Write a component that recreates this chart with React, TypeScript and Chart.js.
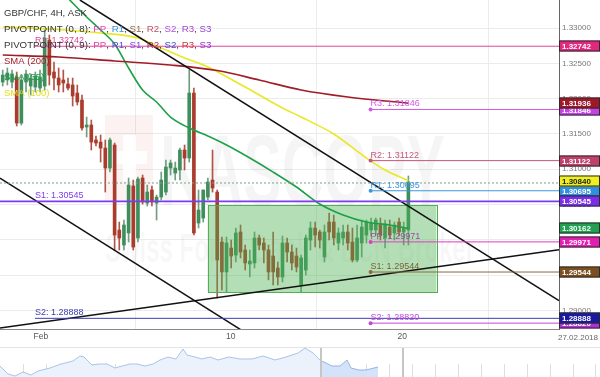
import React, { useEffect, useRef } from 'react';
import { Chart, registerables } from 'chart.js';

Chart.register(...registerables);

const FONT = '"Liberation Sans", Arial, Helvetica, sans-serif';

// ---- 4H candles (GBP/CHF) ----
const opens = [
  1.32235, 1.32264, 1.32235, 1.32306, 1.31654, 1.32235, 1.32178, 1.32164, 1.32150, 1.32178,
  1.32830, 1.32377, 1.32292, 1.32264, 1.32207, 1.32193, 1.32079, 1.31980, 1.31598, 1.31626,
  1.31414, 1.31385, 1.31300, 1.31017, 1.31343, 1.30139, 1.29927, 1.30097, 1.30762, 1.30026,
  1.30876, 1.30521, 1.30706, 1.30521, 1.30606, 1.30677, 1.31017, 1.30946, 1.30989, 1.31272,
  1.31159, 1.32079, 1.30238, 1.30309, 1.30606, 1.30847, 1.30677, 1.29969, 1.29545, 1.29884,
  1.29785, 1.30111, 1.29856, 1.29658, 1.29672, 1.30026, 1.29955, 1.29856, 1.29771, 1.29601,
  1.29474, 1.29955, 1.29827, 1.29771, 1.29361, 1.29573, 1.29997, 1.30167, 1.30111, 1.29757,
  1.30252, 1.30252, 1.29955, 1.30026, 1.30111, 1.29969, 1.29714, 1.29955, 1.30068, 1.30139,
  1.30139, 1.30210, 1.30026, 1.30181, 1.30097, 1.30252, 1.30111, 1.30139,
];
const highs = [
  1.32405, 1.32434, 1.32405, 1.32377, 1.32334, 1.32405, 1.32349, 1.32377, 1.32405, 1.33000,
  1.32901, 1.32518, 1.32434, 1.32405, 1.32292, 1.32292, 1.32193, 1.32051, 1.31739, 1.31697,
  1.31470, 1.31485, 1.31414, 1.31442, 1.31371, 1.30252, 1.30281, 1.30876, 1.30847, 1.30890,
  1.30918, 1.30776, 1.30762, 1.30635, 1.30961, 1.31130, 1.31130, 1.31102, 1.31300, 1.31343,
  1.32405, 1.32150, 1.30706, 1.30706, 1.30876, 1.31272, 1.30706, 1.30040, 1.30040, 1.29997,
  1.30167, 1.30210, 1.29927, 1.29856, 1.30111, 1.30068, 1.30026, 1.29927, 1.30111, 1.29686,
  1.30054, 1.30026, 1.29927, 1.29884, 1.29785, 1.30068, 1.30252, 1.30252, 1.30139, 1.30210,
  1.30380, 1.30351, 1.30167, 1.30210, 1.30210, 1.30167, 1.30210, 1.30281, 1.30281, 1.30309,
  1.30309, 1.30309, 1.30281, 1.30281, 1.30252, 1.30309, 1.30252, 1.30904,
];
const lows = [
  1.32178, 1.32193, 1.32150, 1.31612, 1.31626, 1.32094, 1.32051, 1.32094, 1.32094, 1.32122,
  1.32193, 1.32122, 1.32094, 1.32094, 1.32122, 1.31895, 1.31909, 1.31555, 1.31456, 1.31272,
  1.31329, 1.31102, 1.30677, 1.30961, 1.29856, 1.29856, 1.29856, 1.29969, 1.29856, 1.29969,
  1.30507, 1.30479, 1.30479, 1.30281, 1.30564, 1.30635, 1.30918, 1.30847, 1.30847, 1.30989,
  1.31102, 1.30068, 1.30167, 1.30252, 1.30564, 1.30677, 1.29176, 1.29289, 1.29261, 1.29601,
  1.29686, 1.29743, 1.29573, 1.29474, 1.29601, 1.29856, 1.29672, 1.29432, 1.29361, 1.29361,
  1.29403, 1.29686, 1.29573, 1.29545, 1.29261, 1.29502, 1.29856, 1.29898, 1.29884, 1.29686,
  1.29997, 1.29927, 1.29856, 1.29927, 1.29856, 1.29686, 1.29686, 1.29757, 1.29955, 1.30054,
  1.30068, 1.29997, 1.29884, 1.30026, 1.29997, 1.30054, 1.29927, 1.29927,
];
const closes = [
  1.32334, 1.32363, 1.32349, 1.31654, 1.32264, 1.32349, 1.32292, 1.32320, 1.32306, 1.32858,
  1.32334, 1.32292, 1.32193, 1.32221, 1.32150, 1.32037, 1.31952, 1.31584, 1.31626, 1.31385,
  1.31371, 1.31300, 1.31017, 1.31414, 1.30068, 1.30026, 1.30210, 1.30776, 1.29898, 1.30861,
  1.30536, 1.30677, 1.30536, 1.30606, 1.30847, 1.31031, 1.31088, 1.31017, 1.31272, 1.31159,
  1.32079, 1.30097, 1.30422, 1.30706, 1.30819, 1.30734, 1.29714, 1.29545, 1.29955, 1.29771,
  1.30097, 1.29827, 1.29672, 1.29700, 1.30026, 1.29927, 1.29856, 1.29545, 1.29545, 1.29474,
  1.29955, 1.29827, 1.29672, 1.29615, 1.29743, 1.30026, 1.30167, 1.30068, 1.29997, 1.30111,
  1.30111, 1.30026, 1.30097, 1.30111, 1.29955, 1.29714, 1.30026, 1.30181, 1.30252, 1.30238,
  1.30281, 1.30068, 1.30210, 1.30068, 1.30210, 1.30111, 1.30167, 1.30819,
];

// ---- axes ----
const X_MIN = -0.58;
const X_MAX = 119.3;
const Y_MIN = 1.28737;
const Y_MAX = 1.33397;
const Y_STEP = 0.005;
const xTickPositions = [8.2, 48.9, 85.7];
const xTickLabels = ['Feb', '10', '20'];
const rightDateLabel = '27.02.2018';

// ---- moving averages ----
const sma200X = [0, 12, 24, 36, 46, 55, 64, 74, 87];
const sma200Y = [1.32618, 1.32589, 1.32533, 1.32476, 1.32398, 1.32264, 1.32122, 1.32023, 1.31936];
const sma100X = [0, 10, 21, 29, 34, 39, 44, 52, 60, 64, 71, 78, 82, 87];
const sma100Y = [1.33014, 1.32986, 1.32929, 1.32858, 1.32717, 1.32575, 1.32448, 1.32164, 1.31867, 1.31739, 1.31499, 1.31159, 1.30989, 1.30840];
const sma55X = [12, 15, 18, 21, 24, 27, 30, 33, 36, 40, 44, 48, 53, 58, 63, 68, 73, 78, 83, 87];
const sma55Y = [1.33567, 1.33354, 1.33156, 1.32972, 1.32773, 1.32434, 1.32122, 1.31952, 1.31739, 1.31584, 1.31470, 1.31343, 1.31159, 1.30960, 1.30748, 1.30507, 1.30351, 1.30252, 1.30210, 1.30162];

// ---- trend lines ----
const trendX1 = [16.55, -0.58, -0.58];
const trendY1 = [1.33397, 1.30875, 1.28751];
const trendX2 = [119.3, 56, 119.3];
const trendY2 = [1.29139, 1.28521, 1.29858];

// ---- pivot levels ----
const pivotText = ['R1: 1.32742', 'R3: 1.31846', 'R2: 1.31122', 'R1: 1.30695', 'S1: 1.30545', 'PP: 1.29971', 'S1: 1.29544', 'S2: 1.28888', 'S2: 1.28820'];
const pivotValues = [1.32742, 1.31846, 1.31122, 1.30695, 1.30545, 1.29971, 1.29544, 1.28888, 1.28820];
const pivotStart = [6.9, 78.9, 78.9, 78.9, -0.58, 78.9, 78.9, 6.9, 78.9];
const pivotLabelX = [6.9, 78.9, 78.9, 78.9, 6.9, 78.9, 78.9, 6.9, 78.9];
const pivotDot = [false, true, true, true, false, true, true, false, true];
const pivotColors = ['#e0449a', '#d45ae6', '#c4587a', '#3a96e2', '#7c3cf0', '#e03cc4', '#8a6a3e', '#3c3cb4', '#c048d8'];
const pivotTextColors = ['#e0449a', '#d45ae6', '#c4587a', '#3a96e2', '#7c3cf0', '#a048a8', '#7a5e36', '#3c3cb4', '#c048d8'];
const currentPrice = 1.30805;

// ---- consolidation zone ----
const zoneX = [43.96, 93.0];
const zoneY = [1.29261, 1.30493];

// ---- right axis value tags ----
const tagValues = [1.32742, 1.31846, 1.31936, 1.31122, 1.30695, 1.30840, 1.30545, 1.30162, 1.29971, 1.29544, 1.28820, 1.28888];
const tagColors = ['#e0287f', '#c244e6', '#a01828', '#c0406a', '#2f90df', '#f0f020', '#7a2ee8', '#20a050', '#e020b0', '#7a5020', '#b030d0', '#1a1aa0'];
const tagTextColors = ['#fff', '#fff', '#fff', '#fff', '#fff', '#222', '#fff', '#fff', '#fff', '#fff', '#fff', '#fff'];

// ---- legend ----
const legendPivotNames = ['PP', 'R1', 'S1', 'R2', 'S2', 'R3', 'S3'];
const legendPivot8Colors = ['#e046b4', '#3a8fe0', '#8a6a42', '#c2506e', '#b24ee0', '#a444c8', '#9044cc'];
const legendPivot9Colors = ['#e0449c', '#4f50d6', '#8444e4', '#a8304e', '#3850c4', '#d43232', '#8a34d4'];

// ---- navigator ----
const navX = [0, 8, 15, 23, 31, 38, 50, 61, 73, 80, 84, 92, 99, 107, 115, 122, 130, 137, 145, 153, 160, 168, 176, 183, 187, 195, 202, 210, 218, 229, 240, 252, 263, 275, 286, 298, 305, 313, 321, 324, 332, 340, 347, 351, 359, 366, 378];
const navY = [11, 3, 1, 5, 2, 6, 9, 13, 16, 21, 20, 12, 13, 13, 9, 11, 13, 13, 11, 13, 17, 20, 18, 28, 22, 20, 18, 20, 17, 20, 18, 18, 21, 17, 20, 24, 29, 24, 16, 15, 11, 11, 17, 9, 7, 7, 10];
const navSplit = 321;
const navWindow = [321, 403];
const navTicks = [23, 46, 69, 92, 115, 137, 160, 183, 206, 229, 252, 275, 298, 343, 366, 389, 412, 435, 458, 481, 504, 527, 550, 573, 595];

const GREEN = '#3f8f5c';
const RED = '#a93c2c';
const GREEN_WICK = '#6f9e80';
const RED_WICK = '#b05448';

function mainConfig(): any {
  const up = closes.map((c, i) => c >= opens[i]);
  const datasets: any[] = [];

  pivotValues.forEach((v, k) => {
    datasets.push({
      type: 'line',
      order: 0,
      data: [{ x: pivotStart[k], y: v }, { x: X_MAX, y: v }],
      borderColor: pivotColors[k],
      borderWidth: k === 4 ? 1.6 : 1,
      pointRadius: pivotDot[k] ? [2, 0] : 0,
      pointBackgroundColor: pivotColors[k],
      pointBorderWidth: 0,
    });
  });
  datasets.push({
    type: 'line',
    order: 0,
    data: [{ x: X_MIN, y: currentPrice }, { x: X_MAX, y: currentPrice }],
    borderColor: '#7c9e88',
    borderDash: [2, 2],
    borderWidth: 1,
    pointRadius: 0,
  });
  trendX1.forEach((x1, k) => {
    datasets.push({
      type: 'line',
      order: 1,
      data: [{ x: x1, y: trendY1[k] }, { x: trendX2[k], y: trendY2[k] }],
      borderColor: '#111',
      borderWidth: 1.5,
      pointRadius: 0,
    });
  });
  const smaSets = [
    [sma200X, sma200Y, '#a01c28'],
    [sma55X, sma55Y, '#1ca048'],
    [sma100X, sma100Y, '#e8e826'],
  ];
  smaSets.forEach(([xs, ys, col]: any) => {
    datasets.push({
      type: 'line',
      order: 2,
      data: xs.map((x: number, i: number) => ({ x, y: ys[i] })),
      borderColor: col,
      borderWidth: 1.6,
      pointRadius: 0,
      cubicInterpolationMode: 'monotone',
    });
  });
  const bodyIndex = datasets.length;
  datasets.push({
    type: 'bar',
    order: 4,
    grouped: false,
    data: opens.map((o, i) => ({ x: i, y: [o, closes[i]] })),
    backgroundColor: up.map((u) => (u ? GREEN : RED)),
    barThickness: 3,
    minBarLength: 1,
    borderWidth: 0,
  });
  datasets.push({
    type: 'bar',
    order: 5,
    grouped: false,
    data: lows.map((l, i) => ({ x: i, y: [l, highs[i]] })),
    backgroundColor: up.map((u) => (u ? GREEN_WICK : RED_WICK)),
    barThickness: 1,
    borderWidth: 0,
  });

  const watermark = {
    id: 'watermark',
    beforeDatasetsDraw(chart: any) {
      const ctx = chart.ctx;
      ctx.save();
      ctx.fillStyle = 'rgba(225,70,70,0.07)';
      ctx.fillRect(105, 115, 48, 86);
      ctx.fillStyle = 'rgba(255,255,255,0.9)';
      ctx.fillRect(123, 135, 13, 46);
      ctx.fillRect(112, 151, 35, 13);
      ctx.fillStyle = 'rgba(0,0,0,0.04)';
      ctx.font = `bold 100px ${FONT}`;
      ctx.textBaseline = 'alphabetic';
      ctx.fillText('KASCOPY', 160, 205, 285);
      ctx.font = `bold 40px ${FONT}`;
      ctx.fillStyle = 'rgba(0,0,0,0.03)';
      ctx.fillText('Swiss Forex Bank & ECN Broker', 105, 262, 370);
      ctx.restore();
    },
  };

  const zone = {
    id: 'zone',
    afterDatasetDraw(chart: any, args: any) {
      if (args.index !== bodyIndex) return;
      const xs = chart.scales.x;
      const ys = chart.scales.y;
      const x1 = xs.getPixelForValue(zoneX[0]);
      const x2 = xs.getPixelForValue(zoneX[1]);
      const y1 = ys.getPixelForValue(zoneY[1]);
      const y2 = ys.getPixelForValue(zoneY[0]);
      const ctx = chart.ctx;
      ctx.save();
      ctx.fillStyle = 'rgba(76,178,80,0.42)';
      ctx.fillRect(x1, y1, x2 - x1, y2 - y1);
      ctx.strokeStyle = '#52b052';
      ctx.lineWidth = 1;
      ctx.strokeRect(Math.round(x1) + 0.5, Math.round(y1) + 0.5, Math.round(x2 - x1), Math.round(y2 - y1));
      ctx.restore();
    },
  };

  const overlays = {
    id: 'overlays',
    afterDatasetsDraw(chart: any) {
      const ctx = chart.ctx;
      const xs = chart.scales.x;
      const ys = chart.scales.y;
      ctx.save();
      ctx.font = `9px ${FONT}`;
      ctx.textBaseline = 'bottom';
      ctx.textAlign = 'left';
      pivotText.forEach((t, k) => {
        ctx.fillStyle = pivotTextColors[k];
        ctx.fillText(t, xs.getPixelForValue(pivotLabelX[k]), ys.getPixelForValue(pivotValues[k]) - 1);
      });
      ctx.restore();
    },
    afterDraw(chart: any) {
      const ctx = chart.ctx;
      const ys = chart.scales.y;
      const area = chart.chartArea;
      ctx.save();
      // legend
      ctx.textBaseline = 'middle';
      ctx.textAlign = 'left';
      ctx.font = `9.5px ${FONT}`;
      ctx.fillStyle = '#333';
      ctx.fillText('GBP/CHF, 4H, ASK', 4, 13);
      const drawPivotLegend = (title: string, cols: string[], y: number) => {
        ctx.font = `9.7px ${FONT}`;
        let x = 4;
        ctx.fillStyle = '#333';
        ctx.fillText(title, x, y);
        x += ctx.measureText(title).width;
        legendPivotNames.forEach((n, i) => {
          ctx.fillStyle = cols[i];
          ctx.fillText(n, x, y);
          x += ctx.measureText(n).width;
          if (i < legendPivotNames.length - 1) {
            ctx.fillStyle = '#333';
            ctx.fillText(', ', x, y);
            x += ctx.measureText(', ').width;
          }
        });
      };
      drawPivotLegend('PIVOTPOINT (0, 8): ', legendPivot8Colors, 29);
      drawPivotLegend('PIVOTPOINT (0, 9): ', legendPivot9Colors, 45);
      ctx.font = `9.5px ${FONT}`;
      ctx.fillStyle = '#a01c28';
      ctx.fillText('SMA (200)', 4, 61);
      ctx.fillStyle = '#1ca048';
      ctx.fillText('SMA (55)', 4, 77);
      ctx.fillStyle = '#e0e020';
      ctx.fillText('SMA (100)', 4, 93);

      // right axis value tags
      ctx.font = `bold 8px ${FONT}`;
      tagValues.forEach((v, k) => {
        const y = Math.round(ys.getPixelForValue(v));
        ctx.fillStyle = tagColors[k];
        ctx.fillRect(area.right, y - 5.5, 600 - area.right, 11);
        ctx.strokeStyle = '#2a2a2a';
        ctx.lineWidth = 1;
        ctx.strokeRect(area.right + 0.5, y - 5, 600 - area.right - 1, 10);
        ctx.fillStyle = tagTextColors[k];
        ctx.fillText(v.toFixed(5), area.right + 3, y + 0.5);
      });

      // right date label
      ctx.font = `8px ${FONT}`;
      ctx.fillStyle = '#666';
      ctx.textAlign = 'right';
      ctx.fillText(rightDateLabel, 598, area.bottom + 8.5);
      ctx.restore();
    },
  };

  return {
    type: 'bar',
    data: { datasets },
    options: {
      responsive: false,
      animation: false,
      devicePixelRatio: 1,
      events: [],
      layout: { padding: 0, autoPadding: false },
      plugins: { legend: { display: false }, tooltip: { enabled: false } },
      scales: {
        x: {
          type: 'linear',
          min: X_MIN,
          max: X_MAX,
          offset: false,
          afterFit: (s: any) => {
            s.height = 16;
            s.paddingLeft = 0;
            s.paddingRight = 0;
          },
          afterBuildTicks: (s: any) => { s.ticks = xTickPositions.map((v) => ({ value: v })); },
          ticks: {
            autoSkip: false,
            maxRotation: 0,
            padding: 3,
            color: '#555',
            font: { family: FONT, size: 8.5 },
            callback: (_v: any, i: number) => xTickLabels[i] ?? '',
          },
          grid: { color: '#ececec', drawTicks: false },
          border: { color: '#8a8a8a', width: 1 },
        },
        y: {
          type: 'linear',
          position: 'right',
          min: Y_MIN,
          max: Y_MAX,
          afterFit: (s: any) => {
            s.width = 41;
            s.paddingTop = 0;
            s.paddingBottom = 0;
          },
          ticks: {
            stepSize: Y_STEP,
            includeBounds: false,
            padding: 3,
            color: '#777',
            font: { family: FONT, size: 8 },
            callback: (v: any) => Number(v).toFixed(5),
          },
          grid: { color: '#ebebeb', drawTicks: false },
          border: { color: '#666', width: 1 },
        },
      },
    },
    plugins: [watermark, zone, overlays],
  };
}

function navConfig(): any {
  const pts = navX.map((x, i) => ({ x, y: navY[i] }));
  const partA = pts.filter((p) => p.x <= navSplit);
  const partB = pts.filter((p) => p.x >= navSplit);
  const decor = {
    id: 'navDecor',
    beforeDatasetsDraw(chart: any) {
      const ctx = chart.ctx;
      const xs = chart.scales.x;
      ctx.save();
      ctx.strokeStyle = '#dedede';
      ctx.lineWidth = 1;
      navTicks.forEach((t) => {
        const x = Math.round(xs.getPixelForValue(t)) + 0.5;
        ctx.beginPath();
        ctx.moveTo(x, 19);
        ctx.lineTo(x, 32);
        ctx.stroke();
      });
      ctx.strokeStyle = '#e4e4e4';
      ctx.beginPath();
      ctx.moveTo(0, 2.5);
      ctx.lineTo(600, 2.5);
      ctx.stroke();
      ctx.restore();
    },
    afterDatasetsDraw(chart: any) {
      const ctx = chart.ctx;
      const xs = chart.scales.x;
      ctx.save();
      ctx.fillStyle = '#c6c6c6';
      navWindow.forEach((w) => {
        const x = Math.round(xs.getPixelForValue(w));
        ctx.fillRect(x - 1, 3, 2, 29);
      });
      ctx.restore();
    },
  };
  return {
    type: 'line',
    data: {
      datasets: [
        { data: partA, borderColor: '#a9c3ea', borderWidth: 1, backgroundColor: '#ebf2fc', fill: 'start', pointRadius: 0 },
        { data: partB, borderColor: '#94b4e6', borderWidth: 1, backgroundColor: '#d5e3f8', fill: 'start', pointRadius: 0 },
      ],
    },
    options: {
      responsive: false,
      animation: false,
      devicePixelRatio: 1,
      events: [],
      layout: { padding: 0, autoPadding: false },
      plugins: { legend: { display: false }, tooltip: { enabled: false } },
      scales: {
        x: { type: 'linear', min: 0, max: 600, display: false },
        y: { type: 'linear', min: 0, max: 32, display: false },
      },
    },
    plugins: [decor],
  };
}

export default function App() {
  const mainRef = useRef<HTMLCanvasElement>(null);
  const navRef = useRef<HTMLCanvasElement>(null);
  useEffect(() => {
    const main = new Chart(mainRef.current as HTMLCanvasElement, mainConfig());
    const nav = new Chart(navRef.current as HTMLCanvasElement, navConfig());
    return () => {
      main.destroy();
      nav.destroy();
    };
  }, []);
  return (
    <div style={{ position: 'absolute', left: 0, top: 0, width: 600, height: 377, background: '#fff', overflow: 'hidden' }}>
      <canvas ref={mainRef} width={600} height={345} style={{ position: 'absolute', left: 0, top: 0, width: 600, height: 345 }} />
      <canvas ref={navRef} width={600} height={32} style={{ position: 'absolute', left: 0, top: 345, width: 600, height: 32 }} />
    </div>
  );
}
